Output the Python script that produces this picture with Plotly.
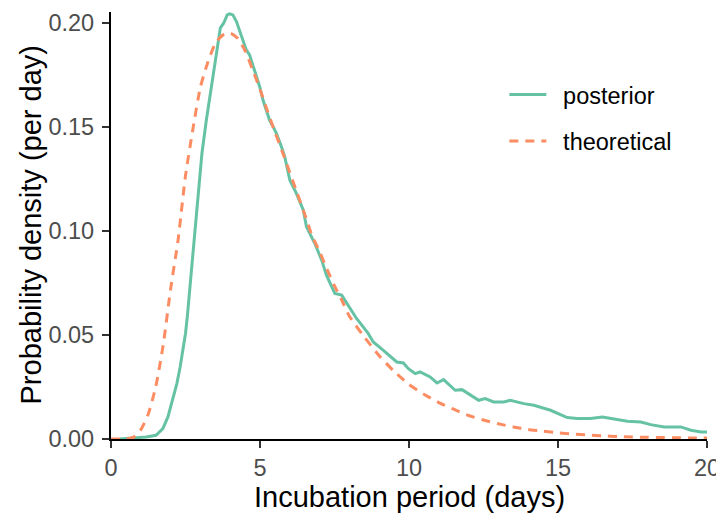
import plotly.graph_objects as go

# ---- data ----
theo_x = [0.0, 0.5, 0.75, 1.0, 1.25, 1.5, 1.75, 2.0, 2.25, 2.5, 2.75, 3.0, 3.25, 3.5,
          3.75, 4.0, 4.25, 4.5, 4.75, 5.0, 5.25, 5.5, 5.75, 6.0, 6.25, 6.5, 6.75,
          7.0, 7.25, 7.5, 7.75, 8.0, 8.5, 9.0, 9.5, 10.0, 10.5, 11.0, 11.5, 12.0,
          12.5, 13.0, 13.5, 14.0, 14.5, 15.0, 15.5, 16.0, 16.5, 17.0, 17.5, 18.0,
          18.5, 19.0, 19.5, 20.0]
theo_y = [0.0, 0.0001, 0.0008, 0.0045, 0.0120, 0.0250, 0.0450, 0.0720, 0.0955,
          0.1265, 0.1490, 0.1690, 0.1810, 0.1900, 0.1940, 0.1950, 0.1925, 0.1865,
          0.1775, 0.1680, 0.1575, 0.1475, 0.1380, 0.1280, 0.1180, 0.1080, 0.0975,
          0.0900, 0.0815, 0.0735, 0.0665, 0.0590, 0.0490, 0.0400, 0.0325, 0.0262,
          0.0215, 0.0175, 0.0143, 0.0113, 0.0091, 0.0073, 0.0058, 0.0046, 0.0038,
          0.0030, 0.0024, 0.0019, 0.0015, 0.0012, 0.0010, 0.0008, 0.0007, 0.0006,
          0.0005, 0.0005]

post_x = [0.3, 1.18, 1.51, 1.74, 1.91, 2.07, 2.21, 2.32, 2.41, 2.50, 2.56, 2.61,
          2.66, 2.75, 2.83, 2.89, 2.97, 3.05, 3.20, 3.36, 3.53, 3.62, 3.67, 3.78,
          3.90, 3.98, 4.09, 4.21, 4.32, 4.43, 4.54, 4.65, 4.77, 4.88, 4.99, 5.10,
          5.21, 5.32, 5.44, 5.55, 5.72, 5.83, 6.00, 6.22, 6.45, 6.56, 6.84, 7.07,
          7.23, 7.46, 7.51, 7.74, 7.85, 8.24, 8.63, 8.80, 9.14, 9.48, 9.59, 9.81,
          9.98, 10.21, 10.37, 10.71, 10.94, 11.16, 11.38, 11.55, 11.78, 12.06,
          12.34, 12.56, 12.84, 13.18, 13.40, 13.85, 14.19, 14.75, 15.03, 15.31,
          15.65, 16.09, 16.49, 16.94, 17.33, 17.78, 18.11, 18.56, 19.12, 19.46,
          19.80, 20.0]
post_y = [0.0, 0.0010, 0.0018, 0.0050, 0.0106, 0.0186, 0.0266, 0.0346, 0.0426,
          0.0507, 0.0587, 0.0667, 0.0747, 0.0875, 0.1003, 0.1132, 0.1260, 0.1370,
          0.1532, 0.1676, 0.1830, 0.1930, 0.1975, 0.1997, 0.2037, 0.2042, 0.2037,
          0.2005, 0.1957, 0.1917, 0.1869, 0.1845, 0.1789, 0.1740, 0.1692, 0.1628,
          0.1580, 0.1532, 0.1500, 0.1468, 0.1404, 0.1356, 0.1244, 0.1180, 0.1100,
          0.1019, 0.0939, 0.0859, 0.0787, 0.0715, 0.0699, 0.0691, 0.0667, 0.0579,
          0.0507, 0.0466, 0.0426, 0.0387, 0.0370, 0.0365, 0.0338, 0.0314, 0.0322,
          0.0298, 0.0269, 0.0285, 0.0258, 0.0234, 0.0237, 0.0210, 0.0186, 0.0194,
          0.0178, 0.0178, 0.0186, 0.0170, 0.0162, 0.0138, 0.0122, 0.0103, 0.0098,
          0.0098, 0.0106, 0.0093, 0.0085, 0.0082, 0.0069, 0.0058, 0.0058, 0.0042,
          0.0034, 0.0034]

x_ticks = [0, 5, 10, 15, 20]
y_ticks = [0.0, 0.05, 0.10, 0.15, 0.20]
y_tick_labels = ["0.00", "0.05", "0.10", "0.15", "0.20"]
x_title = "Incubation period (days)"
y_title = "Probability density (per day)"

GREEN = "#66C2A5"
ORANGE = "#FC8D62"
FONT = "Liberation Sans, Arial, sans-serif"

fig = go.Figure()
fig.add_trace(go.Scatter(
    x=post_x, y=post_y, mode="lines", name="\u2002posterior",
    line=dict(color=GREEN, width=3), legendgroup="a", legendrank=1))
fig.add_trace(go.Scatter(
    x=theo_x, y=theo_y, mode="lines", name="\u2002theoretical",
    line=dict(color=ORANGE, width=3, dash="9px,7px", shape="spline", smoothing=0.6),
    legendgroup="b", legendrank=2))

axis_common = dict(
    showgrid=False, zeroline=False, showline=True, linecolor="black", linewidth=2.2,
    ticks="outside", ticklen=7, tickwidth=2, tickcolor="#333333",
    automargin=False,
    tickfont=dict(family=FONT, size=23.5, color="#4D4D4D"),
)

# the page body adds an 8px offset, so the figure is 8px smaller on each axis
fig.update_layout(
    width=716, height=508,
    margin=dict(l=103, r=17, t=4, b=77, autoexpand=False),
    paper_bgcolor="white", plot_bgcolor="white",
    font=dict(family=FONT, color="black"),
    xaxis=dict(range=[0, 20], tickvals=x_ticks, ticklabelstandoff=0, **axis_common),
    yaxis=dict(range=[0, 0.2051], tickvals=y_ticks, ticktext=y_tick_labels,
               ticklabelstandoff=3, **axis_common),
    legend=dict(x=0.660, y=0.858, xanchor="left", yanchor="top",
                font=dict(family=FONT, size=23.5, color="black"),
                bgcolor="rgba(0,0,0,0)", itemwidth=37, tracegroupgap=13),
    showlegend=True,
    annotations=[
        dict(text=x_title, xref="paper", yref="paper", x=0.5, y=0,
             xanchor="center", yanchor="middle", yshift=-58, showarrow=False,
             font=dict(family=FONT, size=29, color="black")),
        dict(text=y_title, xref="paper", yref="paper", x=0, y=0.5, textangle=-90,
             xanchor="center", yanchor="middle", xshift=-81, showarrow=False,
             font=dict(family=FONT, size=29, color="black")),
    ],
)

fig.write_html("out.html")
